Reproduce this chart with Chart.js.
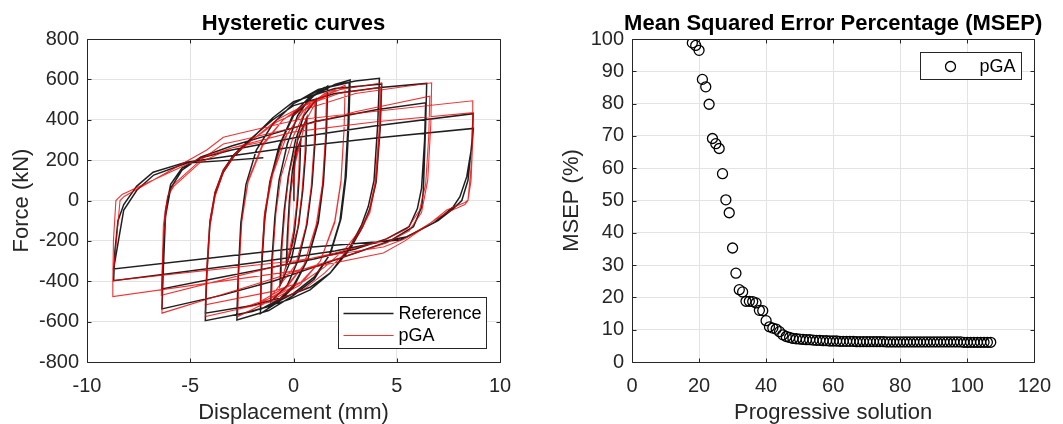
<!DOCTYPE html>
<html>
<head>
<meta charset="utf-8">
<script src="https://cdn.jsdelivr.net/npm/chart.js@4.4.1/dist/chart.umd.min.js"></script>
<style>
  html, body { margin: 0; padding: 0; background: #fff; }
  body { width: 1063px; height: 424px; position: relative; overflow: hidden; }
  canvas { position: absolute; top: 0; }
  #hyst { left: 0; }
  #msep { left: 530px; }
</style>
</head>
<body>
<canvas id="hyst" width="530" height="424"></canvas>
<canvas id="msep" width="533" height="424"></canvas>
<script>
// --- data ---
const dispTicks = [-10, -5, 0, 5, 10];
const forceTicks = [-800, -600, -400, -200, 0, 200, 400, 600, 800];
const solutionTicks = [0, 20, 40, 60, 80, 100, 120];
const msepTicks = [0, 10, 20, 30, 40, 50, 60, 70, 80, 90, 100];

// Reference hysteresis path [displacement mm, force kN]
const refPath = [
  [0, 0], [0.02, 120], [0.05, 190], [0.2, 260], [0.35, 300],
  [0.3, 150], [0.2, 0], [0.05, -150], [-0.15, -260], [-0.35, -320],
  [-0.3, -180], [-0.2, 0], [-0.05, 150], [0.2, 300], [0.65, 410],
  [0.6, 250], [0.45, 50], [0.25, -120], [-0.1, -290], [-0.65, -420],
  [-0.6, -250], [-0.45, -50], [-0.25, 120], [0.1, 300], [0.5, 420], [1.1, 500],
  [1.05, 300], [0.9, 80], [0.65, -120], [0.25, -290], [-0.3, -420], [-1.1, -500],
  [-1.05, -300], [-0.9, -80], [-0.7, 100], [-0.3, 280], [0.2, 420], [0.8, 510], [1.65, 567],
  [1.6, 350], [1.45, 100], [1.2, -100], [0.7, -290], [0, -430], [-0.7, -500], [-1.6, -560],
  [-1.55, -350], [-1.4, -100], [-1.15, 90], [-0.7, 270], [0, 430], [0.8, 515], [1.65, 555],
  [1.6, 340], [1.45, 90], [1.2, -110], [0.7, -290], [0, -420], [-0.7, -490], [-1.6, -540],
  [-1.55, -330], [-1.4, -80], [-1.1, 110], [-0.6, 290], [0, 420], [1, 520], [2, 575], [2.74, 597],
  [2.68, 380], [2.55, 120], [2.3, -90], [1.8, -260], [1, -390], [0, -470], [-1.2, -545], [-2.74, -592],
  [-2.68, -380], [-2.55, -120], [-2.3, 80], [-1.8, 250], [-1, 380], [0, 480], [1.2, 550], [2.7, 585],
  [2.64, 370], [2.5, 110], [2.25, -100], [1.75, -270], [1, -380], [0, -460], [-1.2, -525], [-2.74, -567],
  [-2.68, -370], [-2.55, -110], [-2.3, 80], [-1.8, 250], [-1, 380], [0, 480], [1.5, 560], [3, 592], [4.16, 605],
  [4.08, 380], [3.9, 100], [3.62, -30], [3.3, -120], [2.74, -229], [1.77, -360], [0.8, -443], [-0.2, -490], [-2, -550], [-4.27, -595],
  [-4.2, -370], [-4.05, -120], [-3.8, 30], [-3.4, 140], [-2.9, 217], [-2.25, 283], [-1, 410], [0, 490], [2, 555], [4.27, 577],
  [4.2, 360], [4.0, 90], [3.7, -40], [3.35, -130], [2.74, -240], [1.77, -360], [0.8, -430], [-0.2, -470], [-2, -520], [-4.27, -558],
  [-4.2, -360], [-4.05, -110], [-3.8, 40], [-3.4, 150], [-2.9, 225], [-2.25, 290], [-1, 400], [0, 470], [2, 530], [4.2, 560], [6.45, 580],
  [6.4, 380], [6.29, 52], [6.21, -31], [5.81, -130], [4.67, -200], [3, -260], [1, -330], [-1, -400], [-3.5, -470], [-6.37, -537],
  [-6.3, -330], [-6.2, -80], [-5.95, 60], [-5.4, 150], [-4.5, 215], [-3, 270], [-1, 330], [1, 390], [4, 450], [6.4, 484],
  [6.35, 300], [6.2, 60], [6.0, -40], [5.6, -130], [4.5, -190], [3, -240], [1, -290], [-1, -330], [-3.5, -380], [-6.37, -438],
  [-6.3, -250], [-6.2, -50], [-5.95, 80], [-5.4, 160], [-4.5, 210], [-3, 250], [0, 310], [4, 370], [8.7, 430],
  [8.65, 300], [8.45, 100], [8.15, 0], [7.74, -40], [7, -100], [5.5, -180], [2, -250], [-2, -310], [-8.71, -397],
  [-8.65, -250], [-8.5, -100], [-8.22, -20], [-7.6, 70], [-6.8, 140], [-5.2, 190], [-0.17, 263], [4, 310], [8.71, 357],
  [8.63, 266], [8.39, 118], [8.06, 19], [7.74, -31], [6.8, -110], [5.16, -196], [0.17, -237], [-4, -285], [-8.71, -339],
  [-8.47, -195], [-8.22, -47], [-7.58, 52], [-6.77, 126], [-5.16, 186], [-3, 200], [-1.46, 212]
];

// pGA identified hysteresis path
const pgaPath = [
  [0, 0], [0.05, 150], [0.15, 240], [0.3, 280],
  [0.25, 130], [0.15, -20], [0, -150], [-0.3, -300],
  [-0.25, -150], [-0.15, 20], [0.05, 170], [0.6, 400],
  [0.55, 230], [0.4, 30], [0.2, -140], [-0.6, -400],
  [-0.55, -230], [-0.4, -30], [-0.2, 140], [0.3, 340], [1.05, 480],
  [1.0, 280], [0.85, 60], [0.6, -130], [0.1, -320], [-1.05, -470],
  [-1.0, -280], [-0.85, -60], [-0.6, 120], [0, 320], [0.6, 450], [1.6, 530],
  [1.55, 320], [1.4, 80], [1.1, -120], [0.5, -320], [-0.4, -440], [-1.6, -510],
  [-1.55, -300], [-1.4, -60], [-1.1, 110], [-0.5, 300], [0.5, 450], [1.6, 520],
  [1.55, 310], [1.4, 70], [1.1, -130], [0.5, -320], [-0.4, -430], [-1.6, -500],
  [-1.55, -300], [-1.35, -50], [-1.0, 130], [-0.3, 330], [0.6, 460], [1.5, 530], [2.5, 570],
  [2.45, 360], [2.3, 100], [2.0, -100], [1.3, -300], [0.3, -420], [-1, -490], [-2.7, -575],
  [-2.65, -360], [-2.5, -100], [-2.2, 90], [-1.5, 270], [-0.5, 400], [0.6, 480], [2.5, 560],
  [2.45, 350], [2.3, 90], [2.0, -110], [1.3, -300], [0.3, -410], [-1, -480], [-2.7, -540],
  [-2.65, -340], [-2.5, -90], [-2.2, 100], [-1.5, 280], [-0.5, 400], [0.5, 470], [2, 545], [4.27, 583],
  [4.2, 380], [4.0, 100], [3.7, -60], [3.2, -160], [2.5, -260], [1.5, -360], [0.5, -440], [-1, -500], [-4.27, -575],
  [-4.2, -380], [-4.05, -130], [-3.8, 20], [-3.4, 140], [-2.8, 230], [-2, 300], [-0.8, 400], [0.5, 470], [2.2, 530], [4.2, 560],
  [4.15, 360], [3.95, 90], [3.65, -60], [3.2, -150], [2.5, -240], [1.5, -330], [0.5, -400], [-1, -450], [-4.27, -517],
  [-4.2, -330], [-4.05, -100], [-3.8, 40], [-3.4, 150], [-2.8, 235], [-2, 300], [-0.8, 390], [0.5, 450], [3, 530], [6.69, 583],
  [6.65, 380], [6.5, 100], [6.2, -60], [5.6, -150], [4.5, -210], [3, -260], [0.5, -340], [-2, -420], [-6.37, -558],
  [-6.35, -400], [-6.3, -200], [-6.1, 20], [-5.8, 80], [-4.5, 200], [-3.4, 280], [-2.5, 300], [0, 360], [3, 440], [6.6, 517],
  [6.55, 320], [6.4, 80], [6.1, -50], [5.5, -140], [4.3, -200], [2, -260], [-1, -330], [-6.4, -470],
  [-6.35, -300], [-6.3, -120], [-6.1, 20], [-5.8, 70], [-4.5, 190], [-3, 260], [0, 340], [4, 390], [8.7, 435],
  [8.68, 300], [8.6, 100], [8.45, 0], [8.3, -20], [7.42, -60], [6.61, -113], [5.4, -200], [4.35, -260], [0, -350], [-8.75, -476],
  [-8.75, -393], [-8.4, 0], [-8.2, 20], [-4.2, 250], [-3.4, 313], [-2.6, 333], [0.2, 400], [8.68, 494],
  [8.68, 433], [8.63, 200], [8.45, 2], [8.3, -10], [7.42, -47], [6.61, -113], [5.4, -190], [4.35, -230], [0, -300], [-8.75, -397],
  [-8.72, -200], [-8.6, 0], [-8.3, 30], [-4.5, 210], [-3, 260], [-1.5, 290]
];

// MSEP per progressive solution
const msepSolution = [
  18, 19, 20, 21, 22, 23, 24, 25, 26, 27, 28, 29, 30, 31, 32, 33, 34, 35, 36, 37,
  38, 39, 40, 41, 42, 43, 44, 45, 46, 47, 48, 49, 50, 51, 52, 53, 54, 55, 56, 57,
  58, 59, 60, 61, 62, 63, 64, 65, 66, 67, 68, 69, 70, 71, 72, 73, 74, 75, 76, 77,
  78, 79, 80, 81, 82, 83, 84, 85, 86, 87, 88, 89, 90, 91, 92, 93, 94, 95, 96, 97,
  98, 99, 100, 101, 102, 103, 104, 105, 106, 107
];
const msepValue = [
  98.8, 98.0, 96.5, 87.5, 85.2, 79.8, 69.2, 67.6, 66.1, 58.3, 50.2, 46.2, 35.3, 27.5, 22.4, 21.7, 18.8, 18.8, 18.7, 18.3,
  16.0, 15.9, 12.8, 10.9, 10.5, 10.2, 9.4, 8.4, 7.9, 7.6, 7.3, 7.2, 7.1, 7.0, 6.9, 6.9, 6.8, 6.7, 6.7, 6.6,
  6.6, 6.5, 6.5, 6.5, 6.4, 6.4, 6.4, 6.4, 6.4, 6.3, 6.3, 6.3, 6.3, 6.3, 6.3, 6.3, 6.3, 6.3, 6.2, 6.2,
  6.2, 6.2, 6.2, 6.2, 6.2, 6.2, 6.2, 6.2, 6.2, 6.2, 6.2, 6.2, 6.2, 6.2, 6.2, 6.2, 6.2, 6.2, 6.2, 6.2,
  6.2, 6.1, 6.1, 6.1, 6.1, 6.1, 6.1, 6.1, 6.1, 6.1
];

const FONT = '"Liberation Sans", Arial, Helvetica, sans-serif';
const AXIS = '#262626';
const GRID = '#e3e3e3';
const REF_COLOR = 'rgba(0,0,0,0.88)';
const PGA_COLOR = 'rgba(238,0,0,0.8)';

Chart.defaults.font.family = FONT;

// box, inward ticks, title and legend drawn like the original figure
const frame = {
  id: 'frame',
  afterDraw(chart, args, opts) {
    const { ctx, chartArea: a, scales } = chart;
    const L = Math.round(a.left) + 0.5, R = Math.round(a.right) + 0.5;
    const T = Math.round(a.top) + 0.5, B = Math.round(a.bottom) + 0.5;
    ctx.save();
    ctx.strokeStyle = AXIS;
    ctx.lineWidth = 1;
    ctx.beginPath();
    ctx.rect(L, T, R - L, B - T);
    scales.x.ticks.forEach(t => {
      const px = Math.round(scales.x.getPixelForValue(t.value)) + 0.5;
      ctx.moveTo(px, B); ctx.lineTo(px, B - 4);
      ctx.moveTo(px, T); ctx.lineTo(px, T + 4);
    });
    scales.y.ticks.forEach(t => {
      const py = Math.round(scales.y.getPixelForValue(t.value)) + 0.5;
      ctx.moveTo(L, py); ctx.lineTo(L + 4, py);
      ctx.moveTo(R, py); ctx.lineTo(R - 4, py);
    });
    ctx.stroke();

    // title
    ctx.fillStyle = '#000';
    ctx.font = 'bold 22px ' + FONT;
    ctx.textAlign = 'center';
    ctx.textBaseline = 'alphabetic';
    ctx.fillText(opts.title, (a.left + a.right) / 2, 30);

    // legend
    const lg = opts.legend;
    const bx = Math.round(a.right - lg.dx - lg.w) + 0.5;
    const by = lg.corner === 'bottom'
      ? Math.round(a.bottom - lg.dy - lg.h) + 0.5
      : Math.round(a.top + lg.dy) + 0.5;
    ctx.fillStyle = '#fff';
    ctx.fillRect(bx, by, lg.w, lg.h);
    ctx.strokeStyle = AXIS;
    ctx.lineWidth = 1;
    ctx.strokeRect(bx, by, lg.w, lg.h);
    ctx.font = '18px ' + FONT;
    ctx.textAlign = 'left';
    ctx.textBaseline = 'middle';
    lg.rows.forEach((row, i) => {
      const y = by + lg.first + i * lg.step;
      ctx.strokeStyle = row.color;
      ctx.lineWidth = row.width;
      ctx.beginPath();
      if (row.marker) {
        ctx.arc(bx + row.mx, y, 5, 0, Math.PI * 2);
      } else {
        ctx.moveTo(bx + 5, y); ctx.lineTo(bx + 55, y);
      }
      ctx.stroke();
      ctx.fillStyle = '#000';
      ctx.fillText(row.text, bx + lg.tx, y + 1);
    });
    ctx.restore();
  }
};

function axis(ticks, min, max, title, extra) {
  return Object.assign({
    type: 'linear',
    min: min,
    max: max,
    afterBuildTicks: s => { s.ticks = ticks.map(v => ({ value: v })); },
    grid: { color: GRID, drawTicks: false },
    border: { display: false },
    ticks: { color: AXIS, font: { size: 20 } },
    title: { display: true, text: title, color: AXIS, font: { size: 22, lineHeight: 1 } }
  }, extra);
}

new Chart(document.getElementById('hyst'), {
  type: 'scatter',
  data: {
    datasets: [
      {
        label: 'pGA',
        data: pgaPath.map(p => ({ x: p[0], y: p[1] })),
        showLine: true,
        borderColor: PGA_COLOR,
        borderWidth: 1.1,
        pointRadius: 0,
        order: 0
      },
      {
        label: 'Reference',
        data: refPath.map(p => ({ x: p[0], y: p[1] })),
        showLine: true,
        borderColor: REF_COLOR,
        borderWidth: 1.5,
        pointRadius: 0,
        order: 1
      }
    ]
  },
  options: {
    responsive: false,
    animation: false,
    events: [],
    layout: { padding: { top: 39, right: 30, bottom: 0, left: 0 } },
    scales: {
      x: axis(dispTicks, -10, 10, 'Displacement (mm)', {
        afterFit: s => { s.height = 62; }
      }),
      y: axis(forceTicks, -800, 800, 'Force (kN)', {
        afterFit: s => { s.width = 87; }
      })
    },
    plugins: {
      legend: { display: false },
      tooltip: { enabled: false },
      frame: {
        title: 'Hysteretic curves',
        legend: {
          corner: 'bottom', dx: 14, dy: 14, w: 148, h: 51, first: 16, step: 22, tx: 60,
          rows: [
            { text: 'Reference', color: REF_COLOR, width: 1.5 },
            { text: 'pGA', color: PGA_COLOR, width: 1.1 }
          ]
        }
      }
    }
  },
  plugins: [frame]
});

// tick/title padding
const hystChart = Chart.getChart('hyst');
hystChart.options.scales.x.ticks.padding = 12;
hystChart.options.scales.x.title.padding = 0;
hystChart.options.scales.y.ticks.padding = 8;
hystChart.options.scales.y.title.padding = { top: 11, bottom: 0 };
hystChart.update();

const msepChart = new Chart(document.getElementById('msep'), {
  type: 'scatter',
  data: {
    datasets: [{
      label: 'pGA',
      data: msepSolution.map((s, i) => ({ x: s, y: msepValue[i] })),
      pointRadius: 5,
      pointBorderWidth: 1.3,
      pointBorderColor: '#000',
      pointBackgroundColor: 'rgba(0,0,0,0)'
    }]
  },
  options: {
    responsive: false,
    animation: false,
    events: [],
    layout: { padding: { top: 39, right: 18, bottom: 0, left: 0 } },
    scales: {
      x: axis(solutionTicks, 0, 120, 'Progressive solution', {
        afterFit: s => { s.height = 62; }
      }),
      y: axis(msepTicks, 0, 100, 'MSEP (%)', {
        afterFit: s => { s.width = 102; }
      })
    },
    plugins: {
      legend: { display: false },
      tooltip: { enabled: false },
      frame: {
        title: 'Mean Squared Error Percentage (MSEP)',
        legend: {
          corner: 'top', dx: 13, dy: 13, w: 101, h: 27, first: 14, step: 0, tx: 59,
          rows: [{ text: 'pGA', color: '#000', width: 1.3, marker: true, mx: 30 }]
        }
      }
    }
  },
  plugins: [frame]
});
msepChart.options.scales.x.ticks.padding = 12;
msepChart.options.scales.x.title.padding = 0;
msepChart.options.scales.y.ticks.padding = 8;
msepChart.options.scales.y.title.padding = { top: 31, bottom: 0 };
msepChart.update();
</script>
</body>
</html>
